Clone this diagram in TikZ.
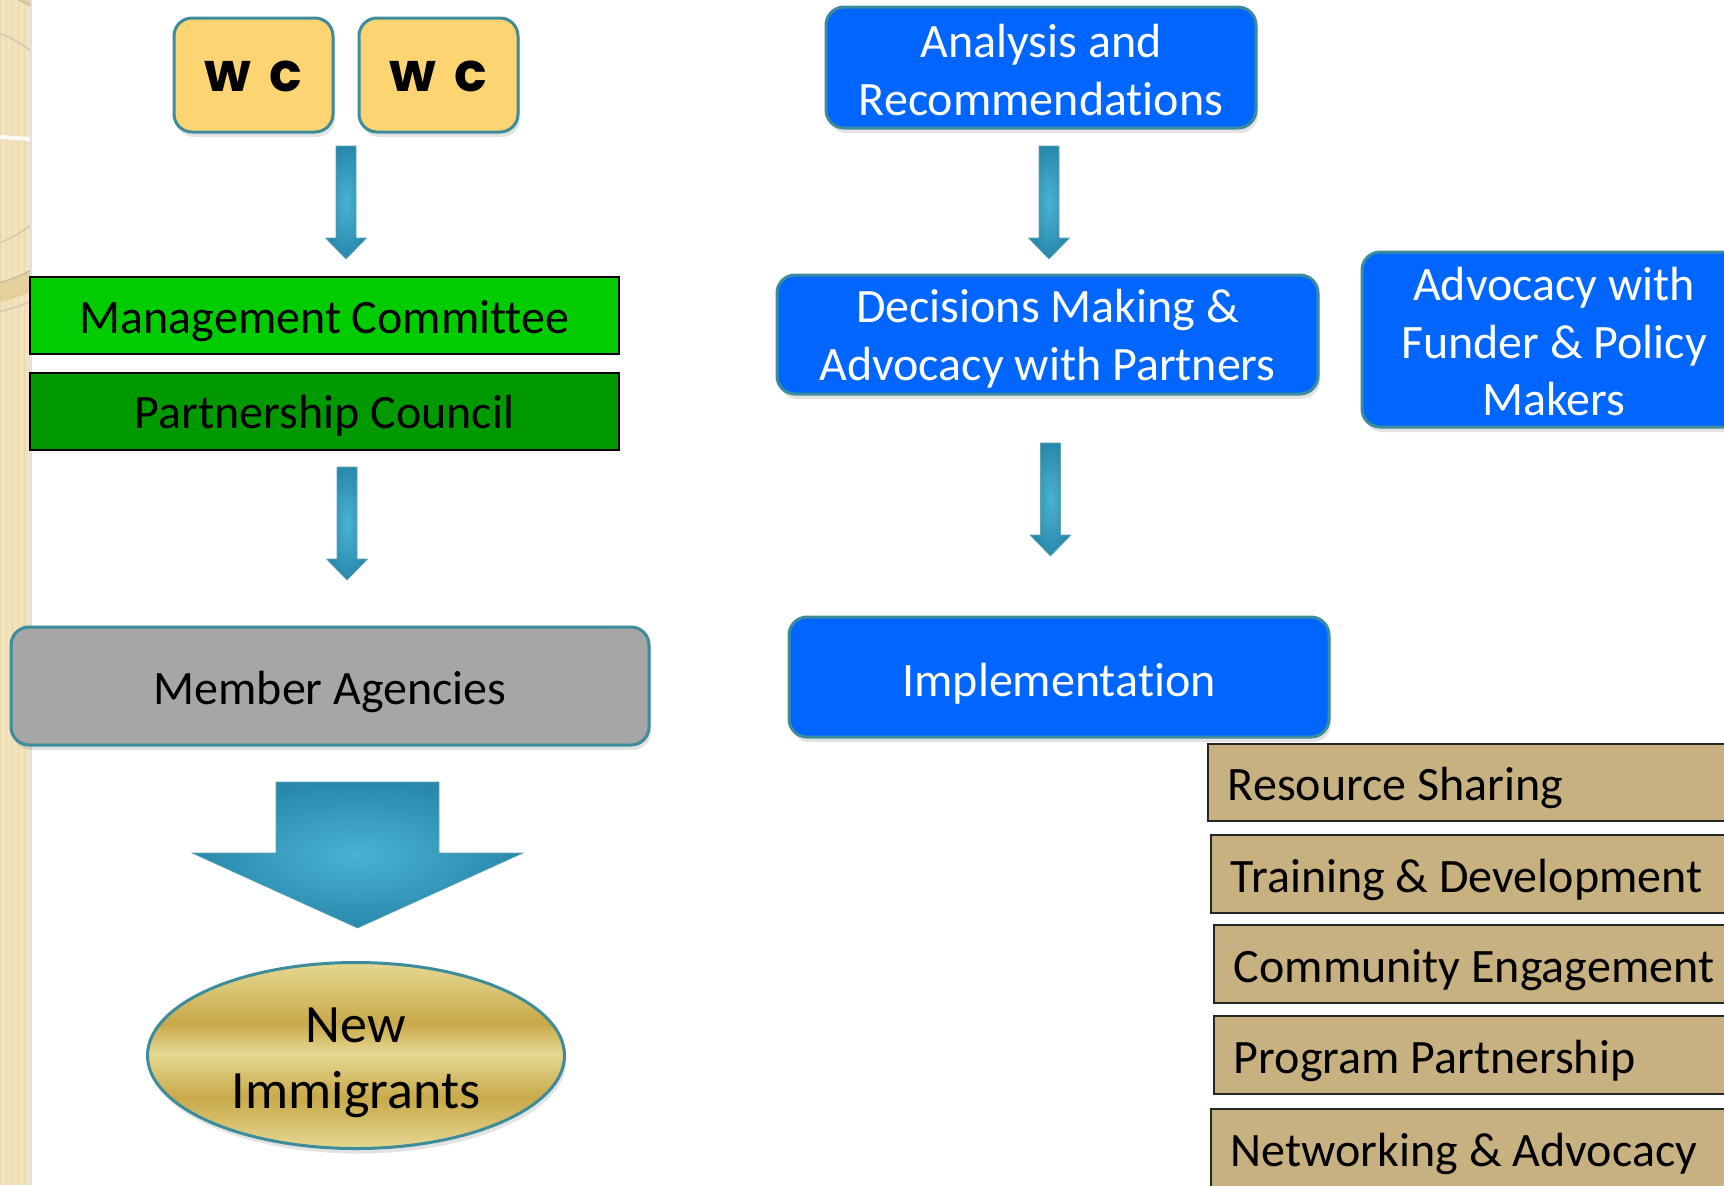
\documentclass[tikz,border=0pt]{standalone}
\usepackage{fontspec}
\setmainfont{Carlito}[Ligatures={NoCommon}]
\newfontfamily\wcfont{Poppins}
\usetikzlibrary{shapes.geometric,shadows,calc}
\definecolor{tealb}{HTML}{3C8C9C}
\definecolor{bluebox}{HTML}{0066FF}
\definecolor{wcfill}{HTML}{FCD472}
\definecolor{greenA}{HTML}{00CC00}
\definecolor{greenB}{HTML}{009900}
\definecolor{grayfill}{HTML}{A6A6A6}
\definecolor{tanfill}{HTML}{C7B181}
\definecolor{arrowdark}{HTML}{2889AC}
\definecolor{arrowlight}{HTML}{4AB2D2}
\definecolor{stripfill}{HTML}{F1E3BD}
\definecolor{stripline}{HTML}{E8D7AA}
\definecolor{ringband}{HTML}{E3CD96}
\definecolor{goldA}{HTML}{E5D892}
\definecolor{goldB}{HTML}{C8A94A}
\pgfdeclareverticalshading{goldband}{100bp}{color(0bp)=(goldA); color(25bp)=(goldA); color(38.7bp)=(goldB); color(50.5bp)=(goldA); color(58.6bp)=(goldB); color(75bp)=(goldA); color(100bp)=(goldA)}
% shift a line of text down without changing its box
\newcommand{\dn}[2]{\raisebox{-#1}[\height][\depth]{#2}}
\tikzset{
  rbox/.style={draw=tealb, line width=1.5pt, rounded corners=9pt, inner sep=0pt, align=center,
    drop shadow={opacity=0.22, shadow xshift=1pt, shadow yshift=-2.5pt}},
  bluestyle/.style={rbox, fill=bluebox, text=white, font=\fontsize{24}{29}\selectfont},
  wcstyle/.style={rbox, fill=wcfill, font=\fontsize{27}{30}\wcfont\bfseries},
  flatbox/.style={draw=black, line width=0.9pt, inner sep=0pt, minimum width=294.5pt, minimum height=38.5pt,
    font=\fontsize{24}{29}\selectfont},
  tanbox/.style={draw=black!85, line width=0.9pt, fill=tanfill, anchor=west, inner xsep=10pt, inner ysep=0pt,
    minimum height=38.8pt, font=\fontsize{24}{29}\selectfont},
  arrowshade/.style={inner color=arrowlight, outer color=arrowdark, draw=tealb!80, line width=0.3pt}
}
% #1 name, #2 cx, #3 shaft top, #4 head start, #5 tip, #6 half shaft, #7 half head
\newcommand{\myarrow}[7]{%
  \coordinate (#1top) at (#2,#3);
  \coordinate (#1tip) at (#2,#5);
  \path[arrowshade] ($(#1top)+(-#6,0)$) -- ($(#1top)+(#6,0)$) -- (#2+#6,#4) -- (#2+#7,#4) -- (#1tip)
     -- (#2-#7,#4) -- (#2-#6,#4) -- cycle;
}
\begin{document}
\begin{tikzpicture}[x=0.5pt, y=-0.5pt]
\useasboundingbox (0,0) rectangle (1724,1185);
% left decorative strip
\fill[stripfill] (0,0) rectangle (31,1185);
\begin{scope}
\clip (0,0) rectangle (31,1185);
\draw[stripline, line width=0.3pt, step=6] (0,0) grid (31,1185);
\draw[ringband, opacity=0.8, line width=9pt] (-40,138) circle (160);
\draw[black!18!stripfill, line width=0.7pt] (-40,138) circle (150);
\draw[black!12!stripfill, line width=0.7pt] (-40,138) circle (178);
\draw[black!12!stripfill, line width=0.7pt] (-40,138) circle (112);
\draw[white!85!stripfill, line width=2pt] (0,137) -- (31,139);
\end{scope}
\draw[black!12, line width=0.6pt] (31,0) -- (31,1185);

% left column
\node[wcstyle, minimum width=79.5pt, minimum height=57pt] (wc1) at (253.5,75) {\raisebox{-8pt}[0pt][0pt]{w\hspace{9pt}c}};
\node[wcstyle, minimum width=79.5pt, minimum height=57pt] (wc2) at (438.5,75) {\raisebox{-8pt}[0pt][0pt]{w\hspace{9pt}c}};
\node[flatbox, fill=greenA] (mc) at (324.5,315.5) {\dn{2.6pt}{Management Committee}};
\node[flatbox, fill=greenB] (pc) at (324.5,411.5) {\dn{2.3pt}{Partnership Council}};
\node[rbox, fill=grayfill, minimum width=319pt, minimum height=59pt, font=\fontsize{24}{29}\selectfont] (ma) at (330,686) {\dn{3.2pt}{Member Agencies}};
\node[ellipse, draw=tealb, line width=1.5pt, inner sep=0pt, minimum width=208.5pt, minimum height=93pt,
  shading=goldband, align=center,
  font=\fontsize{27}{33}\selectfont,
  drop shadow={opacity=0.22, shadow xshift=1pt, shadow yshift=-2.5pt}] (ni) at (356,1055.5) {\dn{3.8pt}{New}\\\dn{3.8pt}{Immigrants}};

% right column
\node[bluestyle, minimum width=215pt, minimum height=60.5pt] (ar) at (1041,67.5) {\dn{1.1pt}{Analysis and}\\\dn{1.1pt}{Recommendations}};
\node[bluestyle, minimum width=270.5pt, minimum height=59.5pt] (dm) at (1047.5,334.5) {\dn{2.2pt}{Decisions Making \&}\\\dn{2.2pt}{Advocacy with Partners}};
\node[bluestyle, minimum width=192pt, minimum height=87.5pt] (af) at (1554,339.5) {\dn{1pt}{Advocacy with}\\\dn{1pt}{Funder \& Policy}\\\dn{1pt}{Makers}};
\node[bluestyle, minimum width=270pt, minimum height=60pt] (im) at (1059,677) {\dn{3.2pt}{Implementation}};

\node[tanbox] (rs) at (1207,782.5) {\makebox[280pt][l]{\dn{2.8pt}{Resource Sharing}}};
\node[tanbox] (td) at (1210,874) {\makebox[280pt][l]{\dn{2.8pt}{Training \& Development}}};
\node[tanbox] (ce) at (1213,964) {\makebox[280pt][l]{\dn{3pt}{Community Engagement}}};
\node[tanbox] (pp) at (1213,1055) {\makebox[280pt][l]{\dn{3pt}{Program Partnership}}};
\node[tanbox] (na) at (1210,1148) {\makebox[280pt][l]{\dn{2.8pt}{Networking \& Advocacy}}};

% arrows
\myarrow{aone}{346}{146}{238}{259}{10}{20.5}
\myarrow{atwo}{347}{467}{559}{580}{10}{20.5}
\myarrow{athree}{1049}{146}{238}{259}{10}{20.5}
\myarrow{afour}{1050.5}{443}{535}{556}{10}{20.5}
\myarrow{abig}{357.5}{782}{853}{928}{81.5}{165.5}
\end{tikzpicture}
\end{document}
